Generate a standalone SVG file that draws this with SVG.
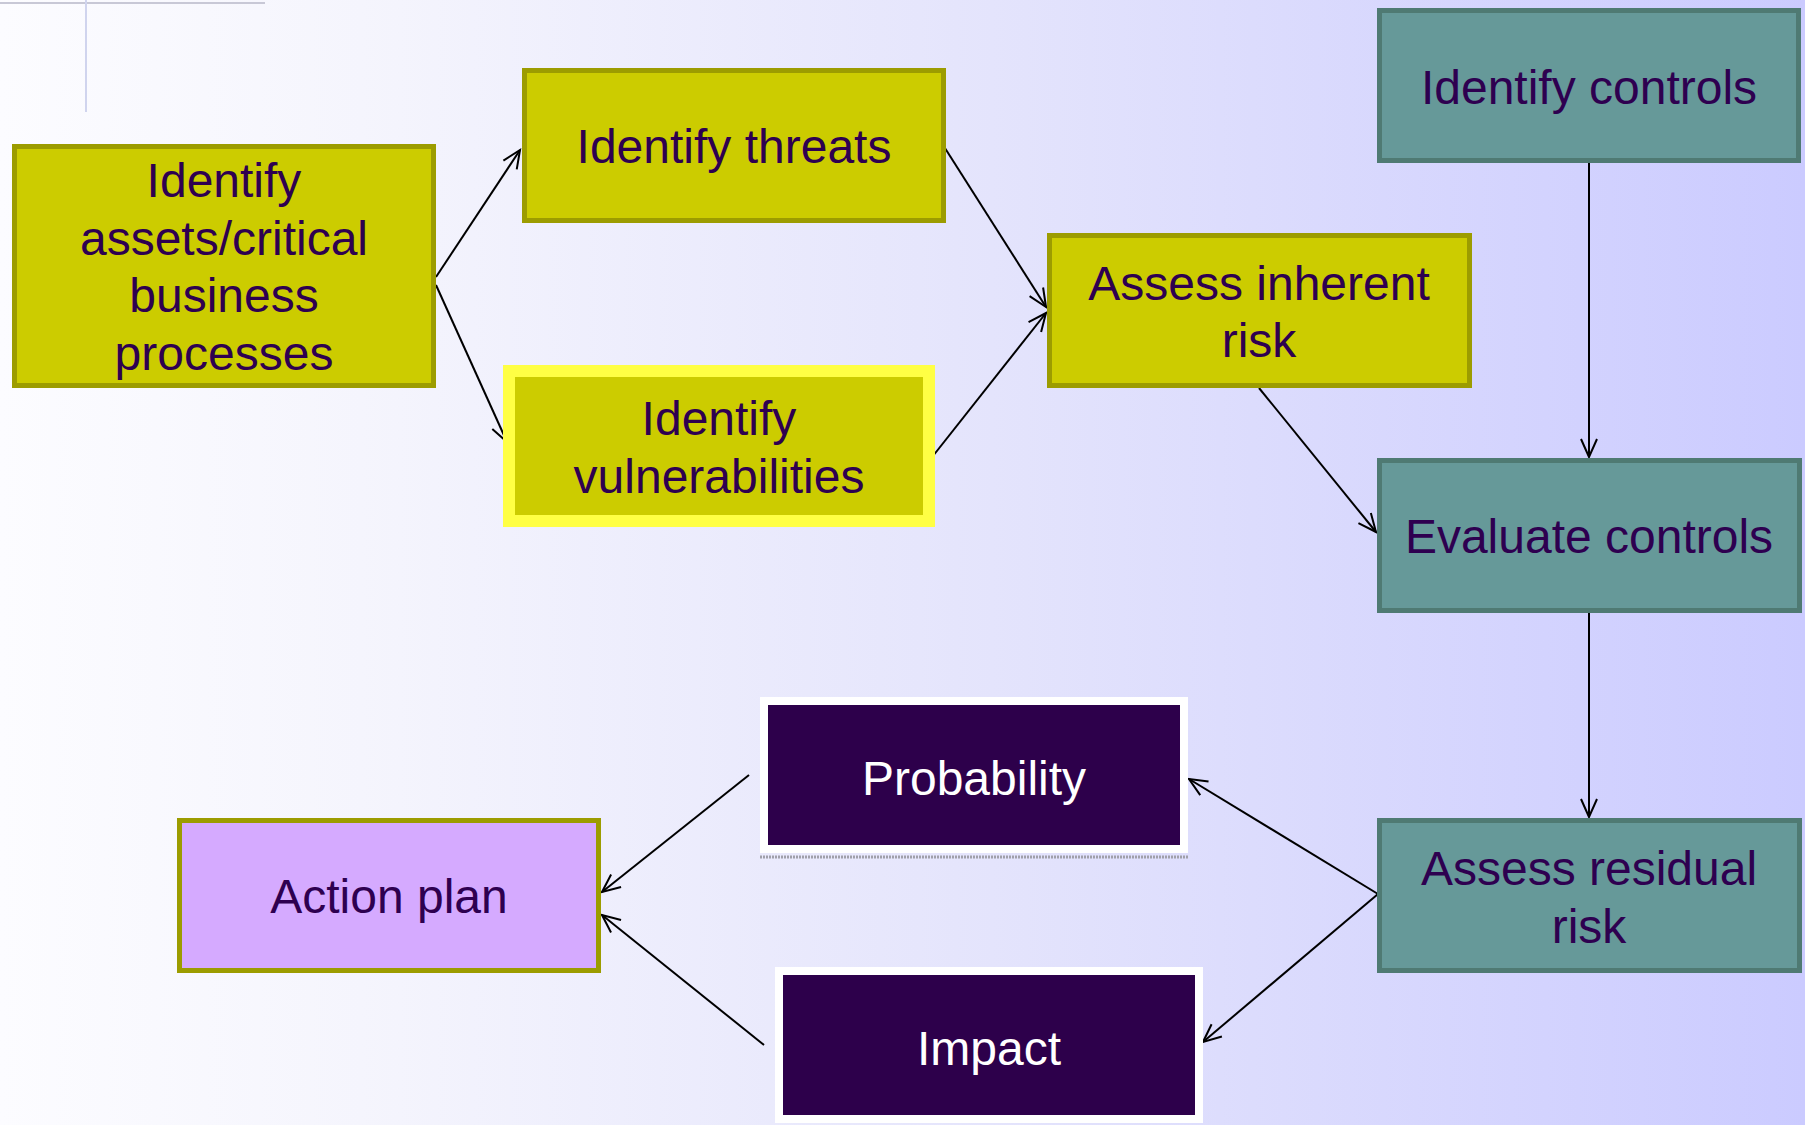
<svg xmlns="http://www.w3.org/2000/svg" width="1805" height="1125" viewBox="0 0 1805 1125">
<defs>
<linearGradient id="bg" x1="0" y1="0" x2="1" y2="0">
<stop offset="0" stop-color="#fcfcff"/>
<stop offset="0.2" stop-color="#f5f5fd"/>
<stop offset="0.55" stop-color="#e4e4fc"/>
<stop offset="1" stop-color="#cbcbff"/>
</linearGradient>
<marker id="arr" markerUnits="userSpaceOnUse" markerWidth="30" markerHeight="30" refX="20" refY="10" orient="auto" viewBox="0 0 30 20">
<path d="M2,2 L20,10 L2,18" fill="none" stroke="#000" stroke-width="2"/>
</marker>
<style>
.olive{fill:#cccc00;stroke:#9c9c00;stroke-width:5}
.teal{fill:#669999;stroke:#4f7a73;stroke-width:5}
.dark{fill:#2d004b;stroke:#ffffff;stroke-width:8}
.t{font-family:"Liberation Sans",Arial,sans-serif;font-size:48px;fill:#2e0050;text-anchor:middle}
.w{fill:#ffffff}
.c{fill:none;stroke:#000;stroke-width:2;marker-end:url(#arr)}
</style>
</defs>
<rect x="0" y="0" width="1805" height="1125" fill="url(#bg)"/>
<line x1="0" y1="3" x2="265" y2="3" stroke="#c8c8d6" stroke-width="2"/>
<line x1="86" y1="0" x2="86" y2="112" stroke="#d0d4ee" stroke-width="2"/>

<g id="connectors">
<line class="c" x1="436" y1="277" x2="520" y2="150"/>
<line class="c" x1="436" y1="285" x2="507" y2="442"/>
<line class="c" x1="943" y1="145" x2="1046" y2="307"/>
<line class="c" x1="929" y1="461" x2="1046" y2="313"/>
<line class="c" x1="1259" y1="388" x2="1376" y2="532"/>
<line class="c" x1="1589" y1="163" x2="1589" y2="457"/>
<line class="c" x1="1589" y1="613" x2="1589" y2="817"/>
<line class="c" x1="1378" y1="894" x2="1189" y2="779"/>
<line class="c" x1="1378" y1="894" x2="1203" y2="1042"/>
<line class="c" x1="749" y1="775" x2="602" y2="892"/>
<line class="c" x1="764" y1="1045" x2="602" y2="915"/>
</g>

<g id="assets">
<rect class="olive" x="14.5" y="146.5" width="419" height="239"/>
<text class="t" x="224" y="197">Identify</text>
<text class="t" x="224" y="255">assets/critical</text>
<text class="t" x="224" y="312">business</text>
<text class="t" x="224" y="370">processes</text>
</g>
<g id="threats">
<rect class="olive" x="524.5" y="70.5" width="419" height="150"/>
<text class="t" x="734" y="163">Identify threats</text>
</g>
<g id="vulnerabilities">
<rect x="509" y="371" width="420" height="150" fill="#cccc00" stroke="#ffff44" stroke-width="12"/>
<text class="t" x="719" y="435">Identify</text>
<text class="t" x="719" y="493">vulnerabilities</text>
</g>
<g id="inherent">
<rect class="olive" x="1049.5" y="235.5" width="420" height="150"/>
<text class="t" x="1259" y="300">Assess inherent</text>
<text class="t" x="1259" y="357">risk</text>
</g>
<g id="identify-controls">
<rect class="teal" x="1379.5" y="10.5" width="419" height="150"/>
<text class="t" x="1589" y="104">Identify controls</text>
</g>
<g id="evaluate-controls">
<rect class="teal" x="1379.5" y="460.5" width="420" height="150"/>
<text class="t" x="1589" y="553">Evaluate controls</text>
</g>
<g id="residual">
<rect class="teal" x="1379.5" y="820.5" width="420" height="150"/>
<text class="t" x="1589" y="885">Assess residual</text>
<text class="t" x="1589" y="943">risk</text>
</g>
<g id="probability">
<rect class="dark" x="764" y="701" width="420" height="148"/>
<line x1="760" y1="857" x2="1188" y2="857" stroke="#a0a0aa" stroke-width="3" stroke-dasharray="2 1"/>
<text class="t w" x="974" y="795">Probability</text>
</g>
<g id="impact">
<rect class="dark" x="779" y="971" width="420" height="148"/>
<text class="t w" x="989" y="1065">Impact</text>
</g>
<g id="action-plan">
<rect class="olive" x="179.5" y="820.5" width="419" height="150" style="fill:#d5aaff"/>
<text class="t" x="389" y="913">Action plan</text>
</g>
</svg>
